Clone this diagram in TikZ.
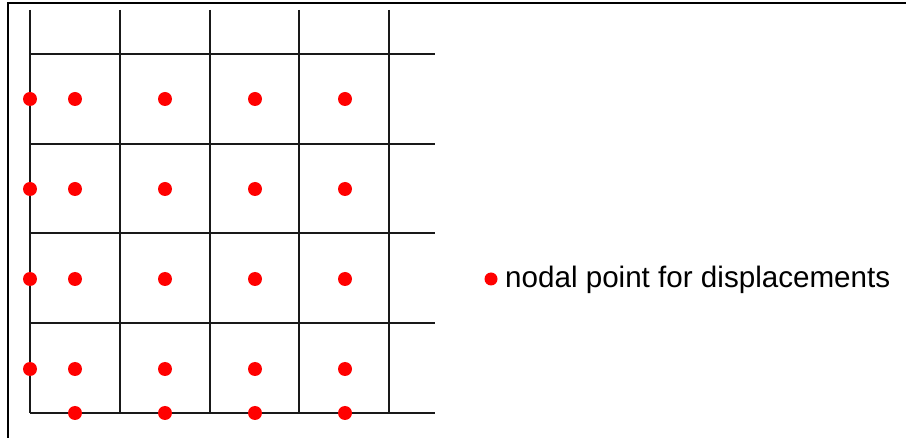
\documentclass[tikz,border=0pt]{standalone}
\usepackage{fontspec}
\setmainfont{Liberation Sans}
\begin{document}
\begin{tikzpicture}[x=1pt,y=-1pt,
  gridline/.style={line width=2pt,draw=black!90},
  framepen/.style={line width=1.5pt,draw=black},
  nodaldot/.style={circle,fill=red,inner sep=0pt,minimum size=14pt}]
\useasboundingbox (0,0) rectangle (906,438);
% outer frame (top and left edges)
\draw[framepen] (8,438) -- (8,3) -- (906,3);
% grid
\foreach \i in {0,...,4} {
  \pgfmathsetmacro{\xx}{30+89.75*\i}
  \draw[gridline] (\xx,10) -- (\xx,413);
  \pgfmathsetmacro{\yy}{54+89.75*\i}
  \draw[gridline] (30,\yy) -- (435,\yy);
}
% nodal points
\foreach \r [count=\ri] in {99,189,279,369} {
  \node[nodaldot] (e\ri) at (30,\r) {};
  \foreach \c [count=\ci] in {75,165,255,345} {
    \node[nodaldot] (p\ri\ci) at (\c,\r) {};
  }
}
\foreach \c [count=\ci] in {75,165,255,345} {
  \node[nodaldot] (b\ci) at (\c,413) {};
}
% legend
\node[nodaldot,minimum size=13pt] (legdot) at (491,279) {};
\node[anchor=base west,inner sep=0pt,font=\fontsize{29.6}{34}\selectfont] (legtext) at (505,288) {nodal point for displacements};
\end{tikzpicture}
\end{document}
